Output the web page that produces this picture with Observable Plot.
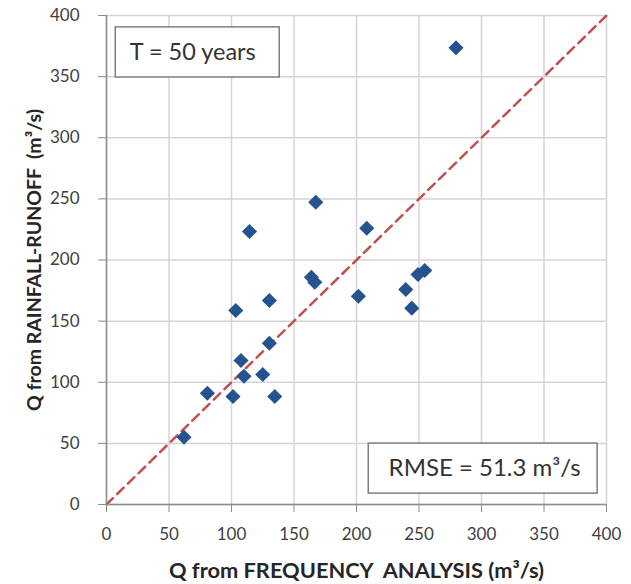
<!DOCTYPE html>
<html>
<head>
<meta charset="utf-8">
<script src="https://cdn.jsdelivr.net/npm/d3@7"></script>
<script src="https://cdn.jsdelivr.net/npm/@observablehq/plot@0.6"></script>
<style>
  html, body { margin: 0; padding: 0; background: #fff; }
  #chart svg { display: block; }
</style>
</head>
<body>
<div id="chart"></div>
<script>
// Data
const qFrequency = [114.4, 103.4, 130.3, 130.3, 107.6, 110.0, 125.0, 80.7, 101.2, 134.6, 62.0,
                    167.4, 208.2, 163.9, 166.6, 201.5, 239.4, 244.2, 249.2, 254.6, 279.6];
const qRainfallRunoff = [223.3, 158.7, 166.9, 131.9, 117.8, 104.9, 106.3, 91.0, 88.3, 88.3, 55.0,
                         247.3, 226.0, 185.9, 181.8, 170.4, 175.9, 160.6, 188.1, 191.4, 373.6];
const tickValues = [0, 50, 100, 150, 200, 250, 300, 350, 400];
const lineOfEquality = [0, 400];
const periodLabel = ["T = 50 years"];
const rmseLabel = ["RMSE = 51.3 m³/s"];

const points = qFrequency.map((x, i) => ({x, y: qRainfallRunoff[i]}));

const font = "Lato, 'Open Sans', sans-serif";

const chart = Plot.plot({
  width: 631,
  height: 584,
  marginLeft: 106,
  marginRight: 25,
  marginTop: 15,
  marginBottom: 80,
  style: {fontFamily: font, fontSize: "17px", color: "#404040", background: "#fff"},
  x: {domain: [0, 400]},
  y: {domain: [0, 400]},
  marks: [
    Plot.gridX(tickValues, {stroke: "#d4d4d4", strokeOpacity: 1, strokeWidth: 1.5}),
    Plot.gridY(tickValues, {stroke: "#d4d4d4", strokeOpacity: 1, strokeWidth: 1.5}),
    // annotation boxes
    Plot.rect(periodLabel, {x1: 7.4, x2: 138.6, y1: 349.3, y2: 390.3, fill: "#fff", stroke: "#7f7f7f", strokeWidth: 1.5}),
    Plot.rect(rmseLabel, {x1: 209.8, x2: 392.9, y1: 8.9, y2: 49.8, fill: "#fff", stroke: "#7f7f7f", strokeWidth: 1.5}),
    Plot.text(periodLabel, {x: 69, y: 369.8, text: d => d, fontSize: 23.5, fill: "#333", textAnchor: "middle", lineAnchor: "middle"}),
    Plot.text(rmseLabel, {x: 302.5, y: 29.4, text: d => d, fontSize: 24, fill: "#333", textAnchor: "middle", lineAnchor: "middle"}),
    // 1:1 line
    Plot.line(lineOfEquality, {x: d => d, y: d => d, stroke: "#c0504d", strokeWidth: 2.5, strokeDasharray: "9,6"}),
    // points
    Plot.dot(points, {x: "x", y: "y", symbol: "diamond2", r: 6.8, fill: "#24538f", stroke: "none"}),
    // axes
    Plot.axisX({ticks: tickValues, tickSize: 8, tickPadding: 15, stroke: "#8c8c8c", fill: "#404040", fontSize: 17, label: null}),
    Plot.axisY({ticks: tickValues, tickSize: 8, tickPadding: 19, stroke: "#8c8c8c", fill: "#404040", fontSize: 17, label: null}),
    Plot.ruleX([0], {stroke: "#8c8c8c", strokeWidth: 1.5}),
    Plot.ruleY([0], {stroke: "#8c8c8c", strokeWidth: 1.5}),
    // axis titles
    Plot.text(["Q from FREQUENCY  ANALYSIS (m³/s)"], {frameAnchor: "bottom", dy: 67, text: d => d, fontSize: 21.8, fontWeight: "bold", fill: "#262626", textAnchor: "middle", lineAnchor: "middle"}),
    Plot.text(["Q from RAINFALL-RUNOFF  (m³/s)"], {frameAnchor: "left", dx: -72, rotate: -90, text: d => d, fontSize: 19.5, fontWeight: "bold", fill: "#262626", textAnchor: "middle", lineAnchor: "middle"})
  ]
});

document.getElementById("chart").appendChild(chart);
</script>
</body>
</html>
